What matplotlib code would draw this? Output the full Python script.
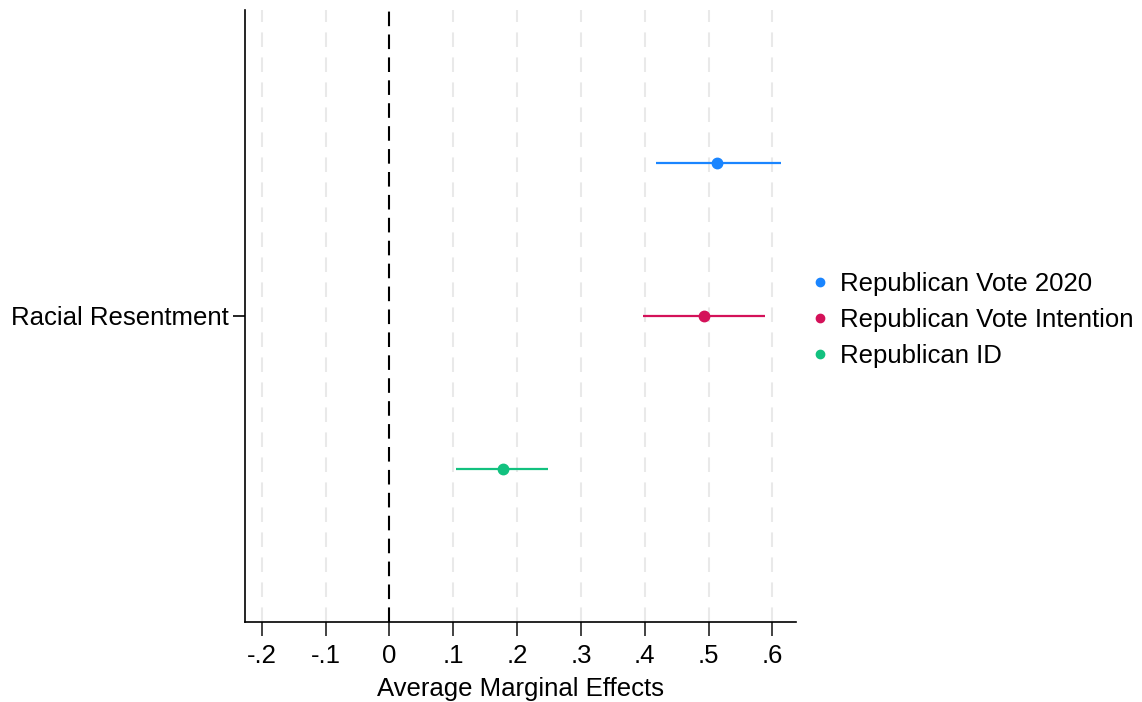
import numpy as np
import matplotlib
matplotlib.use('Agg')
import matplotlib.pyplot as plt
from matplotlib.lines import Line2D
from matplotlib.ticker import FuncFormatter

# data
series = ['Republican Vote 2020', 'Republican Vote Intention', 'Republican ID']
estimates = [0.514, 0.493, 0.178]
ci_low = [0.417, 0.398, 0.105]
ci_high = [0.613, 0.589, 0.249]
colors = ['#1A85FF', '#D41159', '#12C17F']
category = 'Racial Resentment'
xticks = [-0.2, -0.1, 0, 0.1, 0.2, 0.3, 0.4, 0.5, 0.6]

plt.rcParams['font.family'] = ['Liberation Sans', 'DejaVu Sans']

fig = plt.figure(figsize=(11.42, 7.02), dpi=100)
ax = fig.add_axes([0.2145, 0.114, 0.4825, 0.872])

ypos = [3, 2, 1]  # blue on top, then red, then green
for tx in xticks:
    if tx == 0:
        continue
    ax.axvline(tx, color='#e9e9e9', lw=1.5, dashes=(7, 5), zorder=0)
ax.axvline(0, color='black', lw=1.5, dashes=(7, 4), zorder=1)

for y, est, lo, hi, c in zip(ypos, estimates, ci_low, ci_high, colors):
    ax.plot([lo, hi], [y, y], color=c, lw=1.6, solid_capstyle='butt', zorder=2)
    ax.plot(est, y, 'o', color=c, markersize=7.5, zorder=3)

ax.set_xlim(-0.2265, 0.637)
ax.set_ylim(0, 4)
ax.set_xticks(xticks)
ax.xaxis.set_major_formatter(FuncFormatter(
    lambda v, p: ('%.1f' % v).replace('0.', '.') if abs(v) > 1e-9 else '0'))
ax.set_yticks([2])
ax.set_yticklabels([category])
ax.tick_params(axis='x', length=10, width=1.2, labelsize=18.5, pad=6, color='#222222')
ax.tick_params(axis='y', length=9, width=1.2, labelsize=18.5, pad=3)
ax.set_xlabel('Average Marginal Effects', fontsize=18.5, labelpad=6)

for s in ['top', 'right']:
    ax.spines[s].set_visible(False)
for s in ['left', 'bottom']:
    ax.spines[s].set_linewidth(1.2)

handles = [Line2D([], [], marker='o', ls='none', color=c, markersize=6) for c in colors]
fig.legend(handles, series, loc='center left', bbox_to_anchor=(0.689, 0.544),
           frameon=False, fontsize=18.5, handlelength=0.8, handletextpad=0.35,
           labelspacing=0.48)

plt.savefig('out.png', dpi=100)
